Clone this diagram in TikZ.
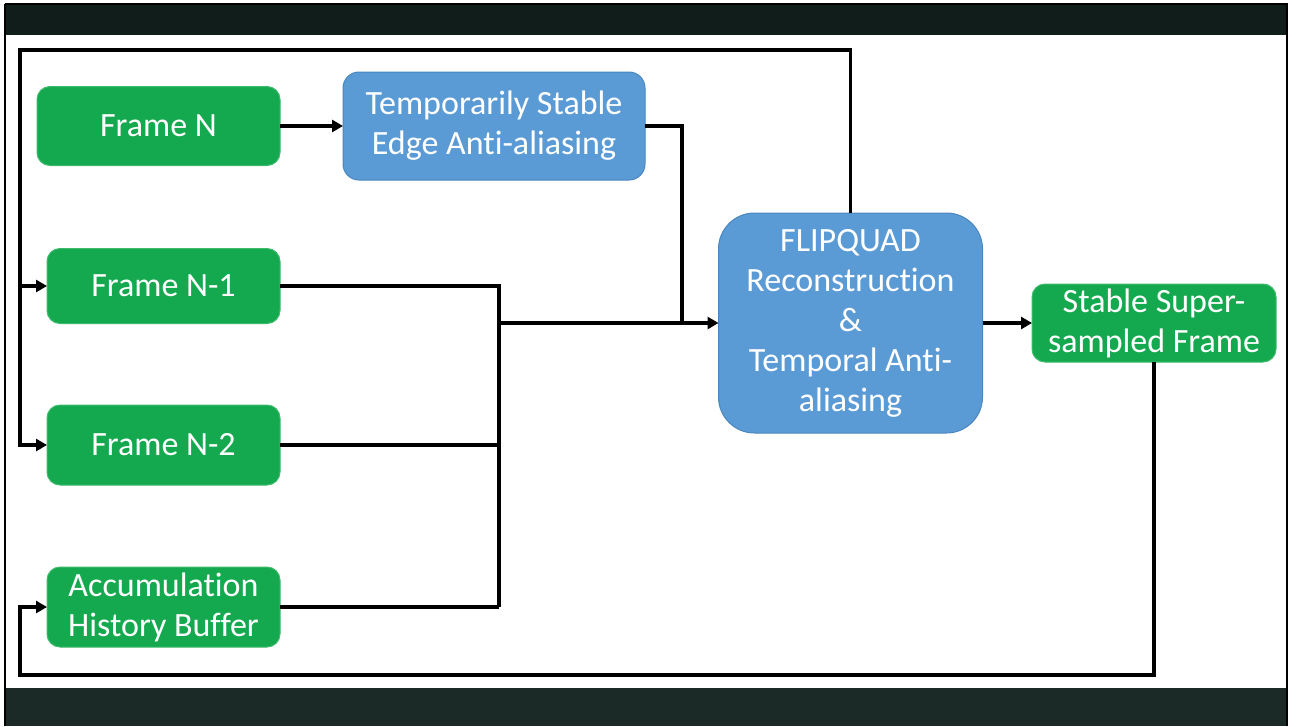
\documentclass[tikz,border=0pt]{standalone}
\usepackage{fontspec}
\setmainfont{Carlito}[Ligatures={NoCommon}]
\usetikzlibrary{arrows.meta}
\definecolor{boxgreen}{HTML}{15A94F}
\definecolor{boxgreenedge}{HTML}{3DBA6C}
\definecolor{boxblue}{HTML}{5B9BD5}
\definecolor{boxblueedge}{HTML}{4A86C0}
\definecolor{darkband}{HTML}{111D1B}
\definecolor{darkbandlow}{HTML}{1B2A27}
\begin{document}
\begin{tikzpicture}[x=1pt,y=-1pt,
  box/.style={rectangle, inner sep=0pt, outer sep=0pt, align=center, text=white,
    font=\fontsize{34}{40}\selectfont, line width=1pt},
  gbox/.style={box, fill=boxgreen, draw=boxgreenedge, rounded corners=13pt},
  bbox/.style={box, fill=boxblue, draw=boxblueedge, rounded corners=16pt},
  wire/.style={line width=3.6pt, draw=black},
  conn/.style={wire, -{Triangle[length=11pt,width=12pt]}}]
\useasboundingbox (0,0) rectangle (1297,726);
\fill[white] (0,0) rectangle (1297,726);
\fill[darkband] (5,4) rectangle (1287,35);
\fill[darkbandlow] (5,688) rectangle (1287,726);
\draw[black, line width=1.6pt] (5,4) -- (1287,4) -- (1287,726) (5,4) -- (5,726);

\node[gbox, minimum width=243pt, minimum height=79pt] (fn) at (158.5,126) {Frame N};
\node[bbox, minimum width=302pt, minimum height=108pt] (tsa) at (494,126) {Temporarily Stable\\Edge Anti-aliasing};
\node[gbox, minimum width=233pt, minimum height=75pt] (n1) at (163.5,286) {Frame N-1};
\node[gbox, minimum width=233pt, minimum height=80pt] (n2) at (163.5,445) {Frame N-2};
\node[gbox, minimum width=233pt, minimum height=80pt] (acc) at (163.5,607) {Accumulation\\History Buffer};
\node[bbox, rounded corners=36pt, minimum width=264pt, minimum height=220pt] (fq) at (850.5,323) {FLIPQUAD\\Reconstruction\\\&\\Temporal Anti-\\aliasing};
\node[gbox, minimum width=244pt, minimum height=78pt] (ss) at (1154,323) {Stable Super-\\sampled Frame};

\coordinate (tl) at (20,50);
\coordinate (bl) at (20,675);
\coordinate (ja) at (682,323);
\coordinate (jb) at (499,323);
\coordinate (jc) at (499,607);

\draw[conn] (fn.east) -- (tsa.west);
\draw[wire] (tsa.east) -| (ja);
\draw[wire] (n1.east) -| (jc);
\draw[wire] (n2.east) -- (n2.east -| jc);
\draw[wire] (acc.east) -- (jc);
\draw[conn] (jb) -- (fq.west);
\draw[conn] (fq.east) -- (ss.west);
\draw[conn] (fq.north) |- (tl) |- (n2.west);
\draw[conn] (tl |- n1.west) -- (n1.west);
\draw[conn] (ss.south) |- (bl) |- (acc.west);
\end{tikzpicture}
\end{document}
